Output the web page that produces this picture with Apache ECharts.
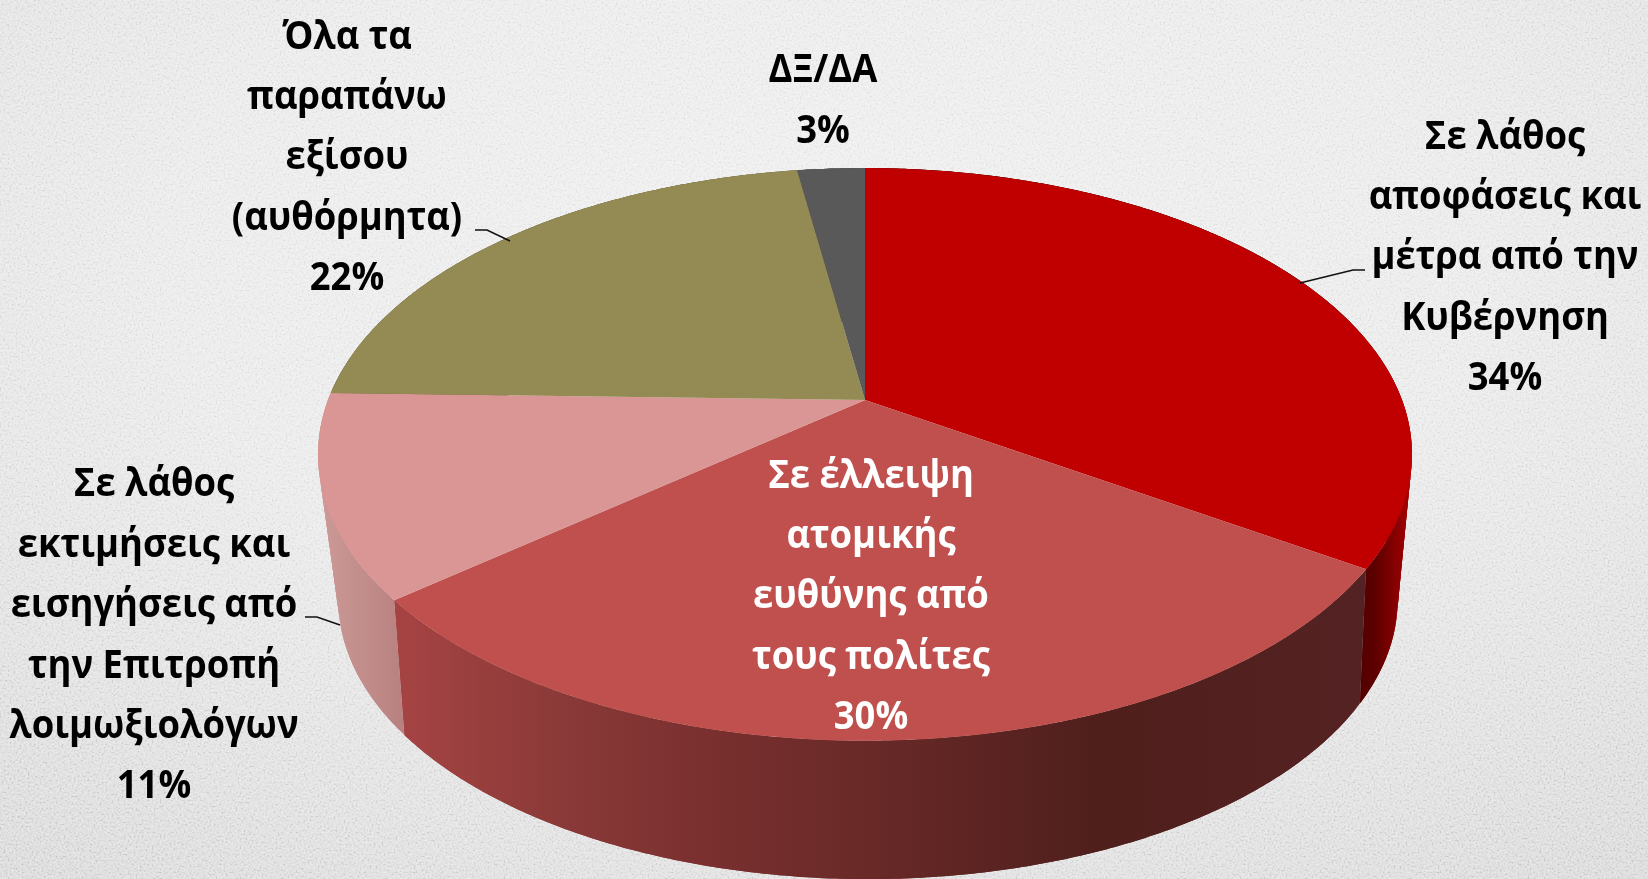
<!DOCTYPE html>
<html>
<head>
<meta charset="utf-8">
<script src="https://cdn.jsdelivr.net/npm/echarts@6/dist/echarts.min.js"></script>
<style>
  html, body { margin: 0; padding: 0; width: 1648px; height: 879px; overflow: hidden; background: #e4e4e4; }
  #bg { position: absolute; left: 0; top: 0; width: 1648px; height: 879px;
    background: radial-gradient(ellipse 80% 85% at 50% 30%, #eeeeee 0%, #e9e9e9 50%, #d8d8d8 100%); }
  #grain { position: absolute; left: 0; top: 0; width: 1648px; height: 879px; opacity: .4; mix-blend-mode: overlay;
    background-image: url("data:image/svg+xml;utf8,<svg xmlns='http://www.w3.org/2000/svg' width='512' height='512'><filter id='n'><feTurbulence type='fractalNoise' baseFrequency='0.5' numOctaves='3' seed='4' stitchTiles='stitch'/><feColorMatrix type='saturate' values='0'/><feComponentTransfer><feFuncR type='linear' slope='3' intercept='-1'/><feFuncG type='linear' slope='3' intercept='-1'/><feFuncB type='linear' slope='3' intercept='-1'/><feFuncA type='linear' slope='0' intercept='1'/></feComponentTransfer></filter><rect width='512' height='512' filter='url(%23n)'/></svg>"); }
  #chart { position: absolute; left: 0; top: 0; width: 1648px; height: 879px; }
</style>
</head>
<body>
<div id="bg"></div>
<div id="grain"></div>
<div id="chart"></div>
<script>
// τιμές από την εικόνα
const categories = [
  'Σε λάθος\nαποφάσεις και\nμέτρα από την\nΚυβέρνηση',
  'Σε έλλειψη\nατομικής\nευθύνης από\nτους πολίτες',
  'Σε λάθος\nεκτιμήσεις και\nεισηγήσεις από\nτην Επιτροπή\nλοιμωξιολόγων',
  'Όλα τα\nπαραπάνω\nεξίσου\n(αυθόρμητα)',
  'ΔΞ/ΔΑ'
];
const values = [34.25, 29.75, 11.4, 22.2, 2.4];
const percentLabels = ['34%', '30%', '11%', '22%', '3%'];
const topColors = ['#c00000', '#c0504d', '#d99694', '#948a54', '#595959'];
const labelColors = ['#000', '#fff', '#000', '#000', '#000'];

// layout
const labelPos = [[1505, 258], [871, 597], [154, 636], [347, 158], [823, 101]];
const leaders = [
  [[1300, 283], [1353, 270], [1365, 270]],
  null,
  [[305, 617], [317, 617], [340, 625]],
  [[475, 230], [487, 230], [510, 241]],
  null
];
const wallStops = [
  [[1340, '#4a0000'], [1375, '#5c0000'], [1415, '#b00000']],
  [[405, '#a54343'], [560, '#8a3a38'], [700, '#7a302f'], [900, '#652826'], [1100, '#4f1f1c'], [1360, '#542222']],
  [[320, '#cc9a98'], [400, '#b98280']],
  [[320, '#6f6840'], [870, '#6f6840']],
  [[800, '#444444'], [870, '#444444']]
];

const topFace = { cx: 865, cy: 400, R: 537, S: 276, k: 0.19, spread: 1 };
const bottomFace = { cx: 868, cy: 547, R: 520, S: 269, k: 0.19, spread: 1.03 };

const total = values.reduce(function (a, b) { return a + b; }, 0);
const starts = [];
values.reduce(function (acc, v, i) { starts[i] = acc; return acc + v; }, 0);

// γωνία δεξιόστροφα από την κορυφή -> σημείο στην προοπτική
function project(face, deg) {
  const t = (180 + (deg - 180) * face.spread) * Math.PI / 180;
  const x = Math.sin(t), y = -Math.cos(t);
  const w = 1 - face.k * y;
  return [face.cx + face.R * x / w, face.cy + face.S * y / w];
}
function arc(face, from, to) {
  const pts = [];
  const n = Math.max(2, Math.ceil((to - from) * 2));
  for (let i = 0; i <= n; i++) pts.push(project(face, from + (to - from) * i / n));
  return pts;
}
function sliceAngles(i, value) {
  const from = starts[i] / total * 360;
  return [from, from + value / total * 360];
}

// το τοίχωμα χτίζεται από μικρά τετράπλευρα, αλλιώς τα δύο τόξα διασταυρώνονται
function renderWall(params, api) {
  const i = params.dataIndex;
  const a = sliceAngles(i, api.value(1));
  const stops = wallStops[i];
  const x0 = stops[0][0], x1 = stops[stops.length - 1][0];
  const fill = {
    type: 'linear', global: true, x: x0, y: 0, x2: x1, y2: 0,
    colorStops: stops.map(function (s) { return { offset: (s[0] - x0) / (x1 - x0), color: s[1] }; })
  };
  const children = [];
  const n = Math.max(2, Math.ceil(a[1] - a[0]));
  const step = (a[1] - a[0]) / n;
  for (let j = 0; j < n; j++) {
    const from = a[0] + j * step;
    const to = Math.min(a[1], from + 2 * step);
    children.push({
      type: 'polygon',
      shape: { points: arc(topFace, from, to).concat(arc(bottomFace, from, to).reverse()) },
      style: { fill: fill }
    });
  }
  return { type: 'group', children: children };
}
function renderTop(params, api) {
  const i = params.dataIndex;
  const a = sliceAngles(i, api.value(1));
  const pts = [[topFace.cx, topFace.cy]].concat(arc(topFace, a[0], a[1]));
  return { type: 'polygon', shape: { points: pts }, style: { fill: topColors[i] } };
}
function renderLabel(params, api) {
  const i = params.dataIndex;
  const children = [{
    type: 'text',
    x: labelPos[i][0], y: labelPos[i][1],
    scaleX: 0.91,
    style: {
      text: categories[i] + '\n' + percentLabels[i],
      fontFamily: '"Open Sans", "Noto Sans", sans-serif',
      fontWeight: 'bold', fontSize: 40, lineHeight: 60.4,
      fill: labelColors[i], textAlign: 'center', textVerticalAlign: 'middle'
    }
  }];
  if (leaders[i]) {
    children.push({
      type: 'polyline',
      shape: { points: leaders[i] },
      style: { fill: null, stroke: '#111', lineWidth: 1.6 }
    });
  }
  return { type: 'group', children: children };
}

const rows = values.map(function (v, i) { return [i, v]; });
const chart = echarts.init(document.getElementById('chart'), null, { renderer: 'canvas' });
chart.setOption({
  backgroundColor: 'transparent',
  animation: false,
  series: [
    { type: 'custom', name: 'walls', coordinateSystem: 'none', renderItem: renderWall, data: rows, silent: true, z: 1 },
    { type: 'custom', name: 'slices', coordinateSystem: 'none', renderItem: renderTop, data: rows, silent: true, z: 2 },
    { type: 'custom', name: 'labels', coordinateSystem: 'none', renderItem: renderLabel, data: rows, silent: true, z: 3 }
  ]
});
</script>
</body>
</html>
